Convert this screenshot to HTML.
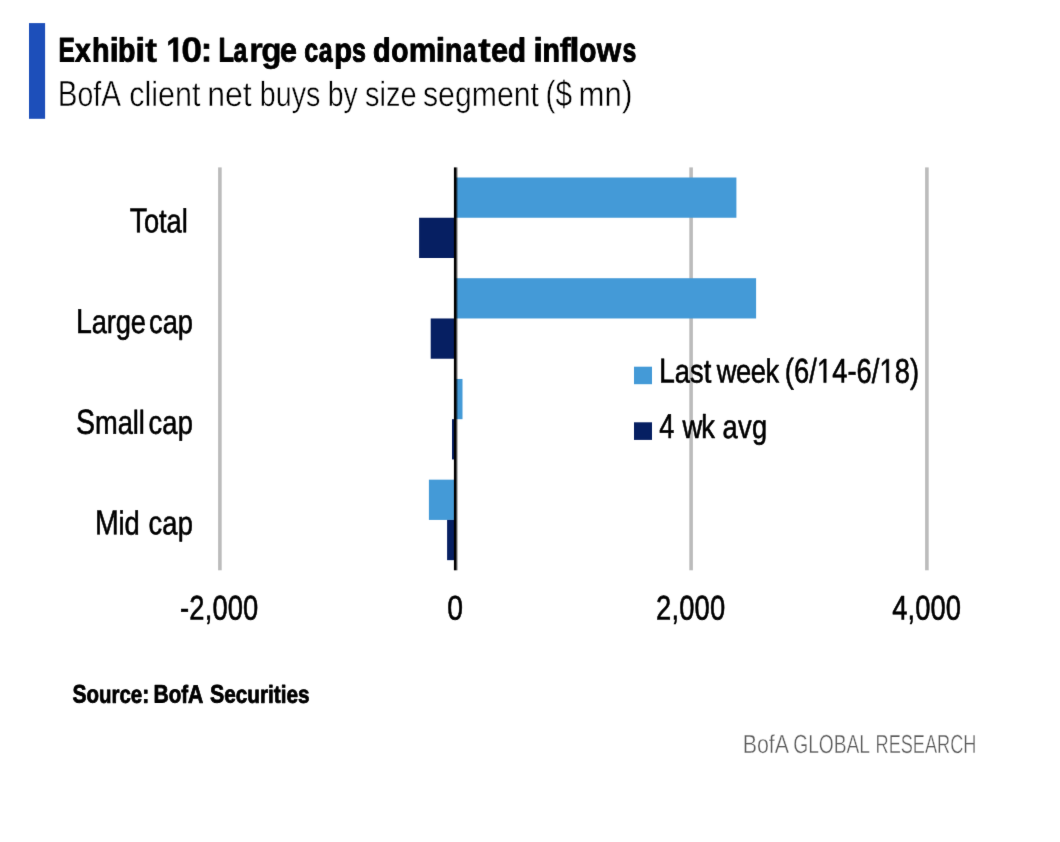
<!DOCTYPE html>
<html><head><meta charset="utf-8"><title>Exhibit 10</title>
<style>html,body{margin:0;padding:0;background:#fff;}body{width:1060px;height:842px;overflow:hidden;font-family:"Liberation Sans",sans-serif;}svg{display:block;font-family:"Liberation Sans",sans-serif;font-kerning:none;will-change:transform;}text{white-space:pre;}</style></head><body>
<svg role="img" aria-label="Exhibit 10: Large caps dominated inflows. BofA client net buys by size segment ($ mn)" width="1060" height="842" viewBox="0 0 1060 842">
<defs><linearGradient id="axg" x1="0" x2="1" y1="0" y2="0"><stop offset="0" stop-color="#000" stop-opacity="0.9"/><stop offset="1" stop-color="#000" stop-opacity="0.05"/></linearGradient></defs>
<defs><filter id="soft" filterUnits="userSpaceOnUse" x="0" y="0" width="1060" height="842" color-interpolation-filters="sRGB"><feConvolveMatrix order="3" kernelMatrix="0.00524 0.06192 0.00524 0.06192 0.73137 0.06192 0.00524 0.06192 0.00524" edgeMode="duplicate" preserveAlpha="true"/></filter></defs>
<g filter="url(#soft)">
<rect width="1060" height="842" fill="#fff"/>
<rect x="29" y="23.1" width="16.1" height="95.7" fill="#1D4FBA"/>
<g id="title" aria-label="Exhibit 10: Large caps dominated inflows">
<g font-weight="bold" fill="#000" stroke="#000" stroke-width="0.7" stroke-linejoin="round"><text transform="translate(58.47 61.38) rotate(.06) scale(0.7172 1)" font-size="34.23" stroke-width="1.05">E</text><text transform="translate(75.04 61.38) rotate(.06) scale(0.8536 1)" font-size="33.20" stroke-width="1.05">x</text><text transform="translate(91.94 61.38) rotate(.06) scale(0.8654 1)" font-size="33.20" stroke-width="1.05">h</text><text transform="translate(109.57 61.55) rotate(.06) scale(1.0125 1)" font-size="33.70">i</text><text transform="translate(118.10 61.38) rotate(.06) scale(0.8587 1)" font-size="33.20" stroke-width="1.05">b</text><text transform="translate(135.25 61.55) rotate(.06) scale(1.0688 1)" font-size="33.70">i</text><text transform="translate(145.03 61.73) rotate(.06) scale(1.0678 1)" font-size="34.19" stroke-width="0.35">t</text><path transform="translate(166.41 61.55) scale(0.01499 -0.01696)" d="M478 0V1170L140 959V1180L493 1409H759V0Z" stroke-width="41.3"/><text transform="translate(181.29 61.73) rotate(.06) scale(1.0648 1)" font-size="35.25" stroke-width="0.35">0</text><text transform="translate(200.68 61.55) rotate(.06) scale(0.9911 1)" font-size="34.74">:</text><text transform="translate(218.47 61.38) rotate(.06) scale(0.7422 1)" font-size="34.23" stroke-width="1.05">L</text><text transform="translate(233.45 61.38) rotate(.06) scale(0.7421 1)" font-size="33.20" stroke-width="1.05">a</text><text transform="translate(248.97 61.73) rotate(.06) scale(1.0412 1)" font-size="34.19" stroke-width="0.35">r</text><text transform="translate(261.29 61.68) rotate(.06) scale(0.9749 1)" font-size="34.05" stroke-width="0.45">g</text><text transform="translate(279.99 61.45) rotate(.06) scale(0.9106 1)" font-size="33.42" stroke-width="0.90">e</text><text transform="translate(304.19 61.38) rotate(.06) scale(0.7542 1)" font-size="33.20" stroke-width="1.05">c</text><text transform="translate(318.65 61.38) rotate(.06) scale(0.7528 1)" font-size="33.20" stroke-width="1.05">a</text><text transform="translate(334.17 61.38) rotate(.06) scale(0.8755 1)" font-size="33.20" stroke-width="1.05">p</text><text transform="translate(352.12 61.38) rotate(.06) scale(0.7535 1)" font-size="33.20" stroke-width="1.05">s</text><text transform="translate(373.10 61.38) rotate(.06) scale(0.8699 1)" font-size="33.20" stroke-width="1.05">d</text><text transform="translate(391.22 61.38) rotate(.06) scale(0.8489 1)" font-size="33.20" stroke-width="1.05">o</text><text transform="translate(408.83 61.52) rotate(.06) scale(0.9284 1)" font-size="33.60" stroke-width="0.76">m</text><text transform="translate(435.39 61.55) rotate(.06) scale(1.0500 1)" font-size="33.70">i</text><text transform="translate(444.90 61.38) rotate(.06) scale(0.8570 1)" font-size="33.20" stroke-width="1.05">n</text><text transform="translate(462.96 61.38) rotate(.06) scale(0.7314 1)" font-size="33.20" stroke-width="1.05">a</text><text transform="translate(478.02 61.73) rotate(.06) scale(1.1230 1)" font-size="34.19" stroke-width="0.35">t</text><text transform="translate(491.06 61.48) rotate(.06) scale(0.9174 1)" font-size="33.49" stroke-width="0.85">e</text><text transform="translate(507.89 61.38) rotate(.06) scale(0.8868 1)" font-size="33.20" stroke-width="1.05">d</text><text transform="translate(533.29 61.55) rotate(.06) scale(1.0500 1)" font-size="33.70">i</text><text transform="translate(542.59 61.38) rotate(.06) scale(0.8628 1)" font-size="33.20" stroke-width="1.05">n</text><text transform="translate(559.38 61.73) rotate(.06) scale(0.9995 1)" font-size="34.19" stroke-width="0.35">f</text><text transform="translate(569.28 61.55) rotate(.06) scale(1.1063 1)" font-size="33.70">l</text><text transform="translate(579.22 61.38) rotate(.06) scale(0.8435 1)" font-size="33.20" stroke-width="1.05">o</text><text transform="translate(596.81 61.54) rotate(.06) scale(0.9348 1)" font-size="33.67" stroke-width="0.72">w</text><text transform="translate(622.42 61.38) rotate(.06) scale(0.7476 1)" font-size="33.20" stroke-width="1.05">s</text></g>
</g><g id="subtitle">
<text transform="translate(57.77 106.02) rotate(.06) scale(0.8173 1)" font-size="36.26" fill="#000" stroke="#fff" stroke-width="0.45">B<tspan font-size="34.81">of</tspan>A</text>
<text transform="translate(129.31 106.02) rotate(.06) scale(0.8751 1)" font-size="36.26" fill="#000" stroke="#fff" stroke-width="0.45"><tspan font-size="34.81">client</tspan></text>
<text transform="translate(207.23 106.02) rotate(.06) scale(0.9200 1)" font-size="36.26" fill="#000" stroke="#fff" stroke-width="0.45"><tspan font-size="34.81">net</tspan></text>
<text transform="translate(259.85 106.02) rotate(.06) scale(0.8232 1)" font-size="36.26" fill="#000" stroke="#fff" stroke-width="0.45"><tspan font-size="34.81">buys</tspan></text>
<text transform="translate(327.77 106.02) rotate(.06) scale(0.8154 1)" font-size="36.26" fill="#000" stroke="#fff" stroke-width="0.45"><tspan font-size="34.81">by</tspan></text>
<text transform="translate(365.02 106.02) rotate(.06) scale(0.8324 1)" font-size="36.26" fill="#000" stroke="#fff" stroke-width="0.45"><tspan font-size="34.81">size</tspan></text>
<text transform="translate(422.97 106.02) rotate(.06) scale(0.8684 1)" font-size="36.26" fill="#000" stroke="#fff" stroke-width="0.45"><tspan font-size="34.81">segment</tspan></text>
<text transform="translate(545.45 106.02) rotate(.06) scale(0.8223 1)" font-size="36.26" fill="#000" stroke="#fff" stroke-width="0.45">($</text>
<text transform="translate(578.50 106.02) rotate(.06) scale(0.8942 1)" font-size="36.26" fill="#000" stroke="#fff" stroke-width="0.45"><tspan font-size="34.81">mn</tspan>)</text>
</g>
<g id="grid">
<rect x="218.10" y="167.4" width="3.6" height="402.90" fill="#BCBCBC"/>
<rect x="689.30" y="167.4" width="3.6" height="402.90" fill="#BCBCBC"/>
<rect x="925.10" y="167.4" width="3.6" height="402.90" fill="#BCBCBC"/>
</g><g id="bars">
<rect x="455.50" y="177.50" width="280.90" height="40.25" fill="#449AD7"/>
<rect x="419.10" y="217.75" width="36.40" height="40.25" fill="#061F62"/>
<rect x="455.50" y="278.22" width="300.60" height="40.25" fill="#449AD7"/>
<rect x="430.70" y="318.47" width="24.80" height="40.25" fill="#061F62"/>
<rect x="455.50" y="378.94" width="7.00" height="40.25" fill="#449AD7"/>
<rect x="452.00" y="419.19" width="3.50" height="40.25" fill="#061F62"/>
<rect x="428.90" y="479.66" width="26.60" height="40.25" fill="#449AD7"/>
<rect x="447.10" y="519.91" width="8.40" height="40.25" fill="#061F62"/>
</g>
<rect x="453.9" y="167.4" width="2.2" height="402.90" fill="#000"/>
<rect x="456.1" y="167.4" width="1.9" height="402.90" fill="url(#axg)"/>
<g id="cats">
<text transform="translate(129.71 232.20) rotate(.06) scale(0.8250 1)" x="0.00 17.23 35.53 44.63 62.94" font-size="34.59" fill="#000" stroke="#000" stroke-width="0.6" stroke-linejoin="round">T<tspan font-size="33.04">otal</tspan></text>
<text transform="translate(75.89 332.92) rotate(.06) scale(0.8250 1)" x="0.00 19.16 37.45 48.37 66.66" font-size="34.59" fill="#000" stroke="#000" stroke-width="0.6" stroke-linejoin="round">L<tspan font-size="33.04">arge</tspan></text>
<text transform="translate(149.09 332.92) rotate(.06) scale(0.8250 1)" x="0.00 16.42 34.70" font-size="34.59" fill="#000" stroke="#000" stroke-width="0.6" stroke-linejoin="round"><tspan font-size="33.04">cap</tspan></text>
<text transform="translate(76.06 433.64) rotate(.06) scale(0.8250 1)" x="0.00 23.02 50.48 68.80 76.08" font-size="34.59" fill="#000" stroke="#000" stroke-width="0.6" stroke-linejoin="round">S<tspan font-size="33.04">mall</tspan></text>
<text transform="translate(148.59 433.64) rotate(.06) scale(0.8250 1)" x="0.00 16.72 35.31" font-size="34.59" fill="#000" stroke="#000" stroke-width="0.6" stroke-linejoin="round"><tspan font-size="33.04">cap</tspan></text>
<text transform="translate(95.09 534.36) rotate(.06) scale(0.8250 1)" x="0.00 28.52 35.56" font-size="34.59" fill="#000" stroke="#000" stroke-width="0.6" stroke-linejoin="round">M<tspan font-size="33.04">id</tspan></text>
<text transform="translate(148.59 534.36) rotate(.06) scale(0.8250 1)" x="0.00 16.72 35.31" font-size="34.59" fill="#000" stroke="#000" stroke-width="0.6" stroke-linejoin="round"><tspan font-size="33.04">cap</tspan></text>
</g><g id="xlabels">
<text transform="translate(180.11 619.45) rotate(.06) scale(0.8000 1)" x="0.00 11.56 30.73 40.40 59.58 78.76" font-size="34.16" fill="#000" stroke="#000" stroke-width="0.6" stroke-linejoin="round">-2,000</text>
<text transform="translate(447.22 619.45) rotate(.06) scale(0.8279 1)" x="0.00" font-size="34.16" fill="#000" stroke="#000" stroke-width="0.6" stroke-linejoin="round">0</text>
<text transform="translate(656.07 619.45) rotate(.06) scale(0.8000 1)" x="0.00 19.20 28.90 48.10 67.31" font-size="34.16" fill="#000" stroke="#000" stroke-width="0.6" stroke-linejoin="round">2,000</text>
<text transform="translate(892.23 619.45) rotate(.06) scale(0.8000 1)" x="0.00 19.12 28.74 47.87 66.99" font-size="34.16" fill="#000" stroke="#000" stroke-width="0.6" stroke-linejoin="round">4,000</text>
</g><g id="legend">
<rect x="634" y="366.7" width="18" height="17.5" fill="#449AD7"/>
<rect x="634" y="422.3" width="18" height="17.6" fill="#061F62"/>
<text transform="translate(658.89 382.55) rotate(.06) scale(0.8250 1)" x="0.00 19.30 37.73 54.30" font-size="34.59" fill="#000" stroke="#000" stroke-width="0.6" stroke-linejoin="round">L<tspan font-size="33.04">ast</tspan></text>
<text transform="translate(716.85 382.55) rotate(.06) scale(0.8250 1)" x="0.00 23.32 41.16 59.00" font-size="34.59" fill="#000" stroke="#000" stroke-width="0.6" stroke-linejoin="round"><tspan font-size="33.04">week</tspan></text>
<g transform="translate(784.83 382.55) rotate(.06) scale(0.8000 1)"><text x="0.00 11.45 30.52 40.08 59.15 78.22 89.67 108.74 118.30 137.37 156.44" font-size="34.16" fill="#000" stroke="#000" stroke-width="0.6" stroke-linejoin="round">(6/ 4-6/ 8)</text><path transform="translate(40.08 0) scale(0.01668 -0.01668)" d="M515 0V1237L197 1010V1180L530 1409H696V0Z" fill="#000" stroke="#000" stroke-width="36.0" stroke-linejoin="round"/><path transform="translate(118.30 0) scale(0.01668 -0.01668)" d="M515 0V1237L197 1010V1180L530 1409H696V0Z" fill="#000" stroke="#000" stroke-width="36.0" stroke-linejoin="round"/></g>
<text transform="translate(659.13 437.95) rotate(.06) scale(0.7803 1)" x="0.00" font-size="34.59" fill="#000" stroke="#000" stroke-width="0.6" stroke-linejoin="round">4</text>
<text transform="translate(682.55 437.95) rotate(.06) scale(0.8250 1)" x="0.00 22.64" font-size="34.59" fill="#000" stroke="#000" stroke-width="0.6" stroke-linejoin="round"><tspan font-size="33.04">wk</tspan></text>
<text transform="translate(722.49 437.95) rotate(.06) scale(0.8250 1)" x="0.00 18.83 35.81" font-size="34.59" fill="#000" stroke="#000" stroke-width="0.6" stroke-linejoin="round"><tspan font-size="33.04">avg</tspan></text>
</g><g id="source">
<text transform="translate(72.50 702.60) rotate(.06) scale(0.8326 1)" font-size="25.29" font-weight="bold" fill="#000" stroke="#000" stroke-width="0.8" stroke-linejoin="round">S<tspan font-size="24.53">ource</tspan>:</text>
<text transform="translate(153.41 702.60) rotate(.06) scale(0.8366 1)" font-size="25.29" font-weight="bold" fill="#000" stroke="#000" stroke-width="0.8" stroke-linejoin="round">B<tspan font-size="24.53">of</tspan>A</text>
<text transform="translate(210.00 702.60) rotate(.06) scale(0.8458 1)" font-size="25.29" font-weight="bold" fill="#000" stroke="#000" stroke-width="0.8" stroke-linejoin="round">S<tspan font-size="24.53">ecurities</tspan></text>
</g><g id="footer">
<text transform="translate(742.67 753.00) rotate(.06) scale(0.8233 1)" font-size="26.02" fill="#5a5a5a" stroke="#fff" stroke-width="0.4">BofA</text>
<text transform="translate(793.19 753.00) rotate(.06) scale(0.7386 1)" font-size="26.02" fill="#5a5a5a" stroke="#fff" stroke-width="0.4">GLOBAL</text>
<text transform="translate(875.56 753.00) rotate(.06) scale(0.6977 1)" font-size="26.02" fill="#5a5a5a" stroke="#fff" stroke-width="0.4">RESEARCH</text>
</g></g></svg></body></html>
